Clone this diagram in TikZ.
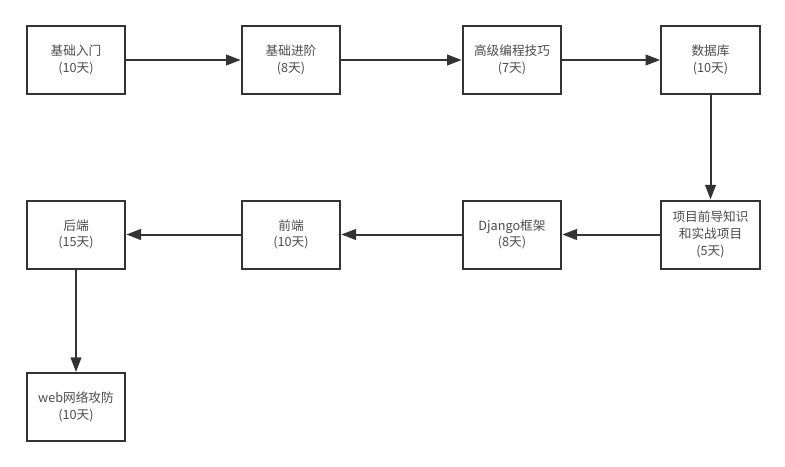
\documentclass[tikz,border=0pt]{standalone}
\usepackage{fontspec}
\setmainfont{Noto Sans CJK SC}
\usetikzlibrary{arrows.meta}
\begin{document}
\begin{tikzpicture}[x=0.75pt,y=-0.75pt,
  box/.style={draw=black!80, line width=1.5pt, rectangle, align=center, minimum width=74pt, minimum height=51pt, text=black!70, font=\fontsize{9.5}{12.5}\selectfont},
  >={Triangle[length=11pt,width=8pt]}]
\useasboundingbox (0,0) rectangle (785,467);
\node[box] (intro) at (76,60) {基础入门\\(10天)};
\node[box] (adv) at (291,60) {基础进阶\\(8天)};
\node[box] (skill) at (512,60) {高级编程技巧\\(7天)};
\node[box] (db) at (710.5,60) {数据库\\(10天)};
\node[box] (proj) at (710.5,234.5) {项目前导知识\\和实战项目\\(5天)};
\node[box] (dj) at (512,234.5) {Django框架\\(8天)};
\node[box] (fe) at (291,234.5) {前端\\(10天)};
\node[box] (be) at (76,234.5) {后端\\(15天)};
\node[box] (web) at (76,407) {web网络攻防\\(10天)};
\draw[->, line width=1.5pt, black!80] (intro) -- (adv);
\draw[->, line width=1.5pt, black!80] (adv) -- (skill);
\draw[->, line width=1.5pt, black!80] (skill) -- (db);
\draw[->, line width=1.5pt, black!80] (db) -- (proj);
\draw[->, line width=1.5pt, black!80] (proj) -- (dj);
\draw[->, line width=1.5pt, black!80] (dj) -- (fe);
\draw[->, line width=1.5pt, black!80] (fe) -- (be);
\draw[->, line width=1.5pt, black!80] (be) -- (web);
\end{tikzpicture}
\end{document}
